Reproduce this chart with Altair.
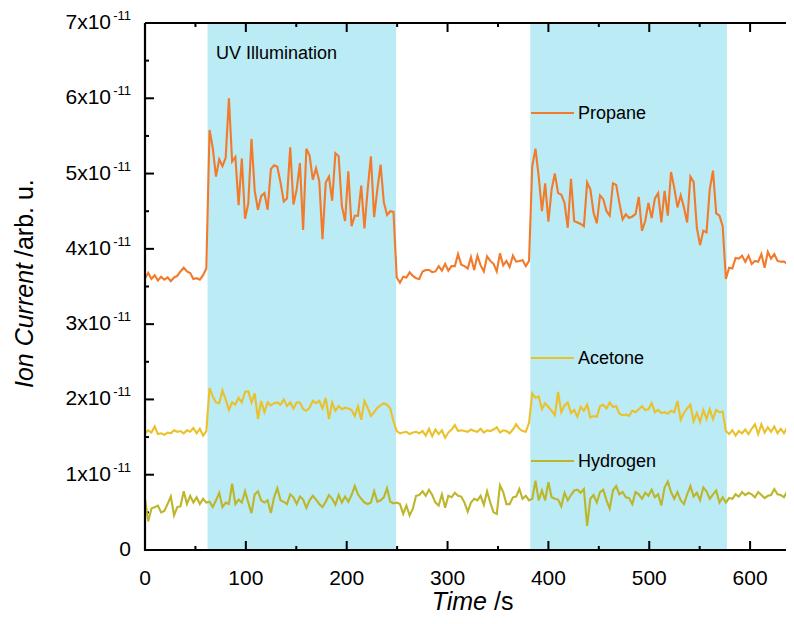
import altair as alt
import pandas as pd

# ---------------- data (values in units of 1e-11) ----------------
STEP = 3.2  # seconds between samples

PROPANE = (
    [3.61, 3.68, 3.60, 3.65, 3.58, 3.63, 3.59, 3.62, 3.57, 3.62, 3.64, 3.70, 3.75, 3.70, 3.68, 3.60, 3.61, 3.59, 3.65, 3.74]
    + [5.58, 5.34, 4.96, 5.19, 5.10, 5.21, 6.00, 5.16, 5.22, 4.58, 5.20, 4.40, 4.60, 5.46, 4.77, 4.52, 4.70, 4.74, 4.52, 5.06,
       5.11, 5.09, 4.88, 4.63, 4.67, 5.35, 4.59, 4.79, 5.14, 4.25, 5.33, 5.24, 4.92, 5.07, 4.90, 4.13, 4.88, 4.96, 4.64, 5.27,
       5.23, 4.57, 4.37, 5.03, 4.30, 4.44, 4.44, 4.84, 4.27, 4.79, 5.23, 4.42, 4.79, 5.12, 4.62, 4.45, 4.50, 4.49]
    + [3.62, 3.55, 3.63, 3.62, 3.69, 3.64, 3.61, 3.60, 3.70, 3.72, 3.72, 3.69, 3.70, 3.77, 3.71, 3.80, 3.71, 3.77, 3.77, 3.93,
       3.79, 3.77, 3.74, 3.89, 3.72, 3.91, 3.78, 3.70, 3.90, 3.84, 3.80, 3.70, 3.94, 3.78, 3.84, 3.76, 3.91, 3.83, 3.84, 3.85,
       3.77, 3.84]
    + [5.10, 5.33, 4.96, 4.50, 4.87, 4.36, 4.79, 5.00, 4.74, 4.72, 4.61, 4.28, 4.93, 4.37, 4.35, 4.33, 4.30, 4.88, 4.79, 4.48,
       4.34, 4.71, 4.66, 4.50, 4.44, 4.87, 4.85, 4.61, 4.39, 4.46, 4.41, 4.43, 4.46, 4.69, 4.24, 4.37, 4.61, 4.41, 4.67, 4.74,
       4.35, 4.77, 4.44, 5.02, 4.81, 4.55, 4.71, 4.55, 4.35, 4.96, 4.89, 4.28, 4.05, 4.24, 4.22, 4.79, 5.04, 4.47, 4.44, 4.30]
    + [3.60, 3.75, 3.74, 3.88, 3.87, 3.91, 3.83, 3.91, 3.80, 3.84, 3.83, 3.93, 3.75, 3.96, 3.87, 3.93, 3.84, 3.83, 3.83, 3.80,
       3.78, 3.86]
)

ACETONE = (
    [1.55, 1.59, 1.56, 1.64, 1.54, 1.55, 1.53, 1.56, 1.55, 1.59, 1.57, 1.58, 1.55, 1.59, 1.57, 1.62, 1.55, 1.61, 1.52, 1.58]
    + [2.15, 2.04, 1.96, 1.95, 2.12, 2.00, 1.86, 1.96, 1.93, 2.02, 1.96, 2.10, 2.11, 1.96, 2.08, 1.74, 1.98, 1.83, 1.96, 1.92,
       1.95, 1.96, 1.93, 2.00, 1.91, 1.96, 1.88, 1.96, 1.96, 1.87, 1.85, 1.89, 1.98, 1.95, 1.98, 1.88, 2.02, 1.74, 1.96, 1.85,
       1.91, 1.87, 1.89, 1.88, 1.86, 1.78, 1.91, 1.73, 1.98, 1.89, 1.78, 1.83, 1.89, 1.92, 1.95, 1.93, 1.88, 1.71]
    + [1.58, 1.55, 1.56, 1.57, 1.54, 1.56, 1.57, 1.55, 1.58, 1.52, 1.61, 1.51, 1.60, 1.54, 1.59, 1.49, 1.56, 1.60, 1.66, 1.58,
       1.59, 1.58, 1.57, 1.60, 1.58, 1.57, 1.61, 1.56, 1.59, 1.58, 1.60, 1.63, 1.56, 1.59, 1.58, 1.55, 1.60, 1.67, 1.61, 1.58,
       1.57, 1.69]
    + [2.08, 2.02, 2.04, 1.87, 1.95, 1.90, 1.85, 1.79, 2.10, 1.83, 1.92, 1.96, 1.82, 1.86, 1.77, 1.90, 1.85, 1.93, 1.76, 1.78,
       1.77, 1.91, 1.93, 1.88, 1.96, 1.90, 1.91, 1.81, 1.79, 1.80, 1.78, 1.85, 1.83, 1.87, 1.91, 1.86, 1.87, 1.95, 1.83, 1.86,
       1.82, 1.83, 1.81, 1.85, 1.83, 1.98, 1.73, 1.82, 1.88, 1.93, 1.71, 1.82, 1.70, 1.86, 1.74, 1.87, 1.74, 1.86, 1.83, 1.84]
    + [1.58, 1.54, 1.59, 1.52, 1.58, 1.55, 1.60, 1.54, 1.61, 1.67, 1.54, 1.67, 1.56, 1.63, 1.57, 1.64, 1.55, 1.61, 1.55, 1.63,
       1.58, 1.60]
)

HYDROGEN = (
    [0.68, 0.38, 0.55, 0.57, 0.59, 0.50, 0.52, 0.61, 0.71, 0.46, 0.57, 0.58, 0.78, 0.61, 0.72, 0.63, 0.70, 0.61, 0.68, 0.63]
    + [0.64, 0.57, 0.66, 0.76, 0.57, 0.63, 0.61, 0.88, 0.61, 0.67, 0.63, 0.78, 0.63, 0.49, 0.74, 0.78, 0.66, 0.63, 0.66, 0.49,
       0.70, 0.82, 0.66, 0.64, 0.61, 0.74, 0.70, 0.61, 0.71, 0.67, 0.56, 0.66, 0.72, 0.67, 0.61, 0.57, 0.64, 0.73, 0.68, 0.60,
       0.73, 0.63, 0.71, 0.64, 0.73, 0.85, 0.74, 0.68, 0.63, 0.61, 0.63, 0.78, 0.64, 0.66, 0.70, 0.82, 0.64, 0.62]
    + [0.63, 0.61, 0.48, 0.59, 0.46, 0.55, 0.72, 0.73, 0.78, 0.72, 0.80, 0.73, 0.63, 0.59, 0.74, 0.56, 0.72, 0.70, 0.76, 0.72,
       0.71, 0.63, 0.51, 0.63, 0.68, 0.66, 0.72, 0.60, 0.78, 0.63, 0.50, 0.48, 0.86, 0.77, 0.61, 0.61, 0.70, 0.71, 0.81, 0.68,
       0.72, 0.66]
    + [0.68, 0.92, 0.66, 0.79, 0.66, 0.90, 0.70, 0.68, 0.67, 0.58, 0.76, 0.66, 0.73, 0.79, 0.80, 0.76, 0.81, 0.32, 0.68, 0.73,
       0.63, 0.77, 0.80, 0.66, 0.55, 0.79, 0.85, 0.74, 0.77, 0.70, 0.69, 0.61, 0.77, 0.74, 0.68, 0.76, 0.72, 0.80, 0.70, 0.74,
       0.59, 0.83, 0.91, 0.77, 0.68, 0.77, 0.66, 0.61, 0.74, 0.85, 0.71, 0.76, 0.66, 0.83, 0.78, 0.68, 0.74, 0.79, 0.63, 0.70]
    + [0.63, 0.69, 0.68, 0.74, 0.71, 0.77, 0.73, 0.76, 0.74, 0.70, 0.77, 0.73, 0.69, 0.72, 0.73, 0.81, 0.74, 0.73, 0.70, 0.78,
       0.76, 0.74]
)

SERIES = ["Propane", "Acetone", "Hydrogen"]
COLORS = ["#F27A2B", "#EBC12B", "#BDB62A"]

UV_START = [62, 382]
UV_END = [249, 577]
UV_LABEL = "UV Illumination"

X_MAJOR = [0, 100, 200, 300, 400, 500, 600]
X_LABELS = ["0", "100", "200", "300", "400", "500", "600"]
X_MINOR = [50, 150, 250, 350, 450, 550]
Y_MAJOR = [0, 1, 2, 3, 4, 5, 6, 7]
Y_MINOR = [0.5, 1.5, 2.5, 3.5, 4.5, 5.5, 6.5]
Y_LABEL_MAIN = ["1x10", "2x10", "3x10", "4x10", "5x10", "6x10", "7x10"]
Y_LABEL_SUP = ["-11", "-11", "-11", "-11", "-11", "-11", "-11"]

X_TITLE = ["Time", "/s"]
Y_TITLE = ["Ion Current", "/arb. u."]

# ---------------- layout ----------------
W, H = 641, 527
X_MAX = 635.6          # keeps 1.0085 px per second, the right end is cut at the window edge
FONT = "Liberation Sans"

xs = alt.Scale(domain=[0, X_MAX], nice=False, zero=False)
ys = alt.Scale(domain=[0, 7], nice=False, zero=True)

rows = []
for name, vals in zip(SERIES, [PROPANE, ACETONE, HYDROGEN]):
    for i, v in enumerate(vals):
        rows.append({"time": round(i * STEP, 2), "value": v, "series": name})
df = pd.DataFrame(rows)

one = pd.DataFrame({"a": [0]})

shade = alt.Chart(pd.DataFrame({"s": UV_START, "e": UV_END})).mark_rect(color="#BBEBF5").encode(
    x=alt.X("s:Q", scale=xs, axis=None), x2="e:Q", y=alt.value(0), y2=alt.value(H)
)

lines = alt.Chart(df).mark_line(strokeWidth=2.1, clip=True).encode(
    x=alt.X("time:Q", scale=xs, axis=None),
    y=alt.Y("value:Q", scale=ys, axis=None),
    color=alt.Color("series:N", scale=alt.Scale(domain=SERIES, range=COLORS), legend=None),
    order=alt.Order("time:Q"),
)

def xticks(vals, y0, y1):
    return alt.Chart(pd.DataFrame({"v": vals})).mark_rule(color="black", strokeWidth=2).encode(
        x=alt.X("v:Q", scale=xs, axis=None), y=alt.value(y0), y2=alt.value(y1))

def yticks(vals, x0, x1):
    return alt.Chart(pd.DataFrame({"v": vals})).mark_rule(color="black", strokeWidth=2).encode(
        y=alt.Y("v:Q", scale=ys, axis=None), x=alt.value(x0), x2=alt.value(x1))

ticks = [
    xticks(X_MAJOR, H, H - 9), xticks(X_MINOR, H, H - 4),
    xticks(X_MAJOR, 0, 9), xticks(X_MINOR, 0, 4),
    yticks(Y_MAJOR, 0, 9), yticks(Y_MINOR, 0, 4),
]

frame = [
    alt.Chart(one).mark_rule(color="black", strokeWidth=2).encode(
        x=alt.value(0), x2=alt.value(W), y=alt.value(0)),
    alt.Chart(one).mark_rule(color="black", strokeWidth=2.2).encode(
        x=alt.value(-1), x2=alt.value(W), y=alt.value(H)),
    alt.Chart(one).mark_rule(color="black", strokeWidth=2.2).encode(
        x=alt.value(0), y=alt.value(0), y2=alt.value(H + 1)),
]

xlab = alt.Chart(pd.DataFrame({"v": X_MAJOR, "t": X_LABELS})).mark_text(
    align="center", baseline="alphabetic", fontSize=21, font=FONT, color="black").encode(
    x=alt.X("v:Q", scale=xs, axis=None), y=alt.value(H + 35), text="t:N")

ylab_df = pd.DataFrame({"v": Y_MAJOR[1:], "main": Y_LABEL_MAIN, "sup": Y_LABEL_SUP})
ylab_main = alt.Chart(ylab_df).mark_text(align="right", baseline="middle", fontSize=21, font=FONT,
                                         color="black").encode(
    y=alt.Y("v:Q", scale=ys, axis=None), x=alt.value(-34), text="main:N")
ylab_sup = alt.Chart(ylab_df).mark_text(align="right", baseline="alphabetic", fontSize=13, font=FONT,
                                        color="black", dy=-3).encode(
    y=alt.Y("v:Q", scale=ys, axis=None), x=alt.value(-14), text="sup:N")
ylab_zero = alt.Chart(pd.DataFrame({"v": [0], "t": ["0"]})).mark_text(
    align="right", baseline="middle", fontSize=21, font=FONT, color="black").encode(
    y=alt.Y("v:Q", scale=ys, axis=None), x=alt.value(-14), text="t:N")

def label(text, x, y, **kw):
    return alt.Chart(pd.DataFrame({"t": [text]})).mark_text(font=FONT, color="black", **kw).encode(
        x=alt.value(x), y=alt.value(y), text="t:N")

titles = [
    label(X_TITLE[0], 342, 587, align="right", baseline="alphabetic", fontSize=25, fontStyle="italic"),
    label(X_TITLE[1], 349, 587, align="left", baseline="alphabetic", fontSize=25),
    label(Y_TITLE[0], -112, 240, align="right", baseline="alphabetic", fontSize=25, fontStyle="italic", angle=270),
    label(Y_TITLE[1], -112, 234, align="left", baseline="alphabetic", fontSize=25, angle=270),
    label(UV_LABEL, 71, 36, align="left", baseline="alphabetic", fontSize=18),
]

LEG_Y = [90, 335, 438]
legend = []
for name, col, ly in zip(SERIES, COLORS, LEG_Y):
    legend.append(alt.Chart(one).mark_rule(color=col, strokeWidth=2).encode(
        x=alt.value(386), x2=alt.value(429), y=alt.value(ly)))
    legend.append(label(name, 433, ly + 6, align="left", baseline="alphabetic", fontSize=18))

chart = alt.layer(
    shade, *ticks, lines, *frame, xlab, ylab_main, ylab_sup, ylab_zero, *titles, *legend
).properties(
    width=W, height=H,
    autosize=alt.AutoSizeParams(type="none"),
    padding={"left": 137, "top": 15, "right": 0, "bottom": 66},
).configure_view(stroke=None)

chart.save("out.html", embed_options={"renderer": "svg", "actions": False})
